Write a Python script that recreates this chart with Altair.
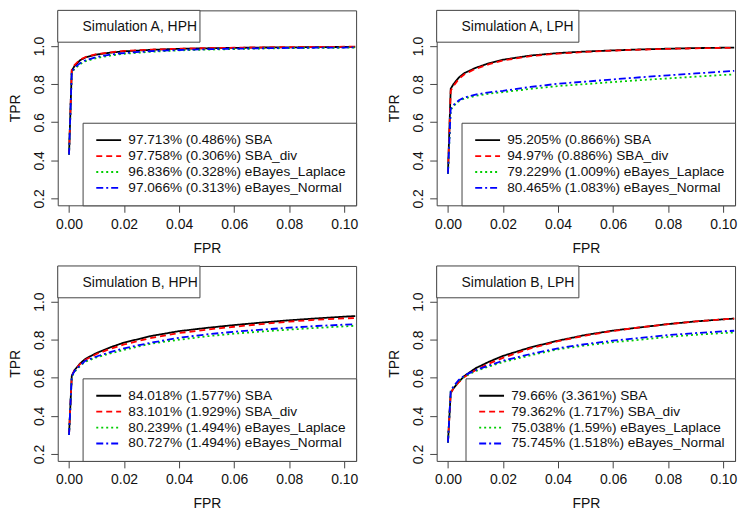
import altair as alt
import pandas as pd

FPR = [0, 0.001, 0.002, 0.004, 0.006, 0.01, 0.015, 0.02, 0.03, 0.04,
       0.05, 0.06, 0.07, 0.08, 0.09, 0.1, 0.104]

METHODS = ["SBA", "SBA_div", "eBayes_Laplace", "eBayes_Normal"]
COLORS = ["#000000", "#FF0000", "#00CD00", "#0000FF"]
DASHES = [[1, 0], [6, 4], [2, 3], [7, 3, 2, 3]]

TITLES = ["Simulation A, HPH", "Simulation A, LPH",
          "Simulation B, HPH", "Simulation B, LPH"]

STATS_A_HPH = ["97.713% (0.486%)", "97.758% (0.306%)", "96.836% (0.328%)", "97.066% (0.313%)"]
STATS_A_LPH = ["95.205% (0.866%)", "94.97% (0.886%)", "79.229% (1.009%)", "80.465% (1.083%)"]
STATS_B_HPH = ["84.018% (1.577%)", "83.101% (1.929%)", "80.239% (1.494%)", "80.727% (1.494%)"]
STATS_B_LPH = ["79.66% (3.361%)", "79.362% (1.717%)", "75.038% (1.59%)", "75.745% (1.518%)"]

A_HPH_SBA = [0.43, 0.87, 0.895, 0.925, 0.94, 0.955, 0.965, 0.972, 0.980, 0.985, 0.988, 0.990, 0.992, 0.993, 0.994, 0.995, 0.996]
A_HPH_DIV = [0.43, 0.875, 0.90, 0.928, 0.942, 0.957, 0.967, 0.974, 0.981, 0.986, 0.989, 0.991, 0.993, 0.994, 0.995, 0.996, 0.997]
A_HPH_LAP = [0.43, 0.86, 0.88, 0.905, 0.92, 0.937, 0.95, 0.959, 0.970, 0.977, 0.981, 0.984, 0.987, 0.989, 0.990, 0.991, 0.992]
A_HPH_NOR = [0.43, 0.865, 0.885, 0.91, 0.925, 0.942, 0.955, 0.963, 0.973, 0.979, 0.983, 0.986, 0.988, 0.990, 0.991, 0.992, 0.993]

A_LPH_SBA = [0.33, 0.775, 0.80, 0.835, 0.858, 0.885, 0.91, 0.928, 0.95, 0.963, 0.971, 0.977, 0.982, 0.986, 0.989, 0.991, 0.992]
A_LPH_DIV = [0.33, 0.765, 0.79, 0.828, 0.852, 0.88, 0.905, 0.924, 0.947, 0.96, 0.969, 0.976, 0.981, 0.985, 0.988, 0.990, 0.991]
A_LPH_LAP = [0.33, 0.665, 0.685, 0.71, 0.725, 0.738, 0.75, 0.758, 0.775, 0.79, 0.80, 0.811, 0.821, 0.83, 0.839, 0.848, 0.851]
A_LPH_NOR = [0.33, 0.67, 0.69, 0.715, 0.73, 0.745, 0.757, 0.765, 0.785, 0.802, 0.813, 0.825, 0.836, 0.846, 0.856, 0.866, 0.87]

B_HPH_SBA = [0.30, 0.61, 0.64, 0.675, 0.70, 0.73, 0.76, 0.785, 0.82, 0.845, 0.862, 0.877, 0.89, 0.902, 0.912, 0.921, 0.924]
B_HPH_DIV = [0.30, 0.61, 0.64, 0.672, 0.695, 0.725, 0.752, 0.775, 0.81, 0.835, 0.853, 0.868, 0.882, 0.895, 0.905, 0.912, 0.914]
B_HPH_LAP = [0.30, 0.605, 0.632, 0.662, 0.685, 0.707, 0.728, 0.747, 0.78, 0.80, 0.818, 0.832, 0.843, 0.853, 0.862, 0.870, 0.873]
B_HPH_NOR = [0.30, 0.61, 0.635, 0.665, 0.69, 0.712, 0.735, 0.755, 0.785, 0.81, 0.828, 0.842, 0.853, 0.863, 0.872, 0.879, 0.881]

B_LPH_SBA = [0.26, 0.52, 0.545, 0.58, 0.61, 0.65, 0.685, 0.715, 0.76, 0.795, 0.825, 0.848, 0.865, 0.882, 0.896, 0.907, 0.911]
B_LPH_DIV = [0.26, 0.52, 0.545, 0.578, 0.605, 0.64, 0.675, 0.705, 0.755, 0.792, 0.822, 0.846, 0.865, 0.882, 0.896, 0.907, 0.911]
B_LPH_LAP = [0.26, 0.53, 0.552, 0.585, 0.608, 0.635, 0.66, 0.683, 0.718, 0.75, 0.77, 0.787, 0.80, 0.815, 0.826, 0.835, 0.838]
B_LPH_NOR = [0.26, 0.53, 0.555, 0.59, 0.612, 0.64, 0.665, 0.69, 0.725, 0.755, 0.777, 0.795, 0.81, 0.824, 0.835, 0.844, 0.847]

X_TICKS = [0, 0.02, 0.04, 0.06, 0.08, 0.10]
Y_TICKS = [0.2, 0.4, 0.6, 0.8, 1.0]

FONT = "Liberation Sans"
FS = 14
LEG_FS = 13.7
INK = "#111111"
BOX = "#444444"


def panel(title, stats, curves):
    labels = [f"{s} {m}" for s, m in zip(stats, METHODS)]
    rows = []
    for k, (lab, tprs) in enumerate(zip(labels, curves)):
        for f, t in zip(FPR, tprs):
            rows.append({"fpr": f, "tpr": t, "series": lab, "k": k})
    df = pd.DataFrame(rows)

    leg = alt.Legend(title=None)
    lines = alt.Chart(df).mark_line(clip=True, strokeWidth=1.8).encode(
        x=alt.X("fpr:Q", title="FPR",
                scale=alt.Scale(domain=[-0.0041, 0.1043], nice=False, zero=False),
                axis=alt.Axis(values=X_TICKS, format=".2f")),
        y=alt.Y("tpr:Q", title="TPR",
                scale=alt.Scale(domain=[0.164, 1.187], nice=False, zero=False),
                axis=alt.Axis(values=Y_TICKS, format=".1f")),
        color=alt.Color("series:N", scale=alt.Scale(domain=labels, range=COLORS), legend=leg),
        strokeDash=alt.StrokeDash("series:N", scale=alt.Scale(domain=labels, range=DASHES), legend=leg),
        detail="k:N",
    )

    tdf = pd.DataFrame({"t": [title]})
    box = alt.Chart(tdf).mark_rect(fill="white", stroke=BOX, strokeWidth=1).encode(
        x=alt.value(0), x2=alt.value(143), y=alt.value(0), y2=alt.value(32))
    txt = alt.Chart(tdf).mark_text(align="left", baseline="middle", font=FONT,
                                   fontSize=FS, color=INK).encode(
        x=alt.value(25), y=alt.value(17), text="t:N")
    return alt.layer(lines, box, txt).properties(width=300, height=196)


p1 = panel(TITLES[0], STATS_A_HPH, [A_HPH_SBA, A_HPH_DIV, A_HPH_LAP, A_HPH_NOR])
p2 = panel(TITLES[1], STATS_A_LPH, [A_LPH_SBA, A_LPH_DIV, A_LPH_LAP, A_LPH_NOR])
p3 = panel(TITLES[2], STATS_B_HPH, [B_HPH_SBA, B_HPH_DIV, B_HPH_LAP, B_HPH_NOR])
p4 = panel(TITLES[3], STATS_B_LPH, [B_LPH_SBA, B_LPH_DIV, B_LPH_LAP, B_LPH_NOR])

chart = alt.concat(p1, p2, p3, p4, columns=2, spacing={"row": 61, "column": 81},
                   bounds="flush").resolve_scale(
    color="independent", strokeDash="independent"
).properties(
    padding={"left": 0, "top": 0, "right": 4, "bottom": 0}, background="white"
).configure_view(
    stroke=BOX, strokeWidth=1
).configure_axis(
    domain=False, grid=False, ticks=True, tickSize=7, tickColor=BOX,
    labelFont=FONT, labelFontSize=FS, labelColor=INK,
    titleFont=FONT, titleFontSize=FS, titleFontWeight="normal", titleColor=INK,
).configure_axisX(
    labelPadding=5, titlePadding=10
).configure_axisY(
    labelAngle=270, labelAlign="center", labelBaseline="bottom",
    labelPadding=4, titlePadding=10
).configure_legend(
    orient="bottom-right", offset=0, strokeColor=BOX, fillColor="white",
    padding=10, symbolType="M-0.6,0H3.4", symbolSize=156, symbolStrokeWidth=1.8,
    labelFont=FONT, labelFontSize=LEG_FS, labelColor=INK, labelOffset=21,
    rowPadding=1, labelLimit=400,
)

chart.save("out.html", embed_options={"renderer": "svg", "actions": False})
